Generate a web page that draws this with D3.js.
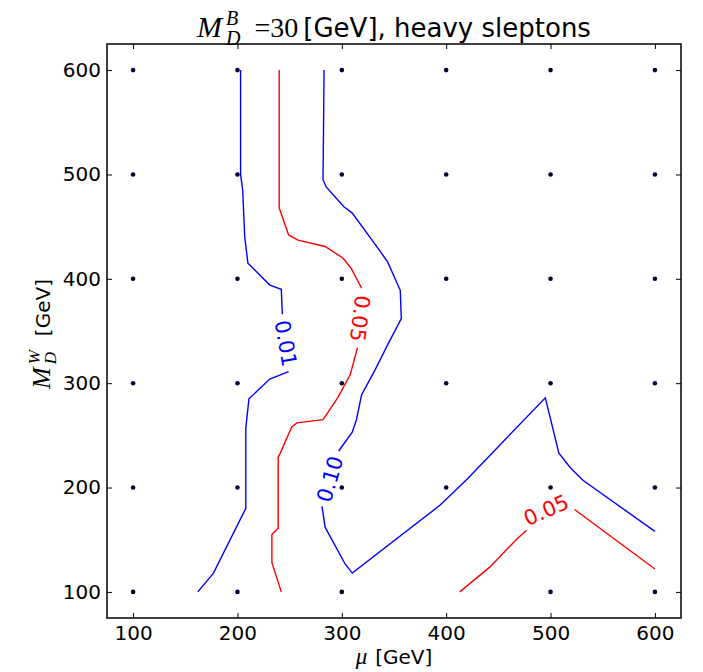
<!DOCTYPE html>
<html>
<head>
<meta charset="utf-8">
<script src="https://cdn.jsdelivr.net/npm/d3@7"></script>
<style>
  body { margin: 0; background: #fff; }
</style>
</head>
<body>
<div id="chart"></div>
<script>
// scan points in the (mu, M_D^W) plane, GeV
const scanMu = [100, 200, 300, 400, 500, 600,
                100, 200, 300, 400, 500, 600,
                100, 200, 300, 400, 500, 600,
                100, 200, 300, 400, 500, 600,
                100, 200, 300, 400, 500, 600,
                100, 200, 300, 500, 600];
const scanMW = [600, 600, 600, 600, 600, 600,
                500, 500, 500, 500, 500, 500,
                400, 400, 400, 400, 400, 400,
                300, 300, 300, 300, 300, 300,
                200, 200, 200, 200, 200, 200,
                100, 100, 100, 100, 100];

const ticks = [100, 200, 300, 400, 500, 600];

// contour pieces [mu, M_D^W], broken where the inline labels sit
const blue001Top = [[203, 600], [203, 500], [205, 485], [207, 440], [210, 415], [231, 394], [242, 390], [243, 366]];
const blue001Bot = [[249, 311], [231, 304], [211, 285], [208, 257], [208, 180], [177, 118], [162, 100]];
const red005Top = [[240, 600], [240, 495], [240, 468], [249, 442], [258, 437], [284, 431], [301, 420], [309, 410], [319, 391]];
const red005Bot = [[315, 334], [308, 308], [296, 286], [282, 265], [257, 262], [252, 258], [241, 233], [239, 229],
                   [239, 161], [233, 155], [233, 128], [242, 100]];
const blue010Top = [[283, 600], [282, 495], [285, 488], [302, 469], [310, 463], [337, 426], [344, 416], [356, 389],
                    [357, 362], [344, 337], [332, 313], [319, 289], [314, 265], [310, 253], [297, 235]];
const blue010Bot = [[281, 182], [284, 162], [303, 127], [310, 118], [394, 183], [420, 208], [495, 286],
                    [508, 233], [519, 219], [531, 207], [600, 158]];
const red005RightA = [[413, 100], [442, 124], [468, 151], [477, 159]];
const red005RightB = [[523, 179], [600, 122]];

const contourPieces = [
  {pts: blue001Top, color: "#0000ff"}, {pts: blue001Bot, color: "#0000ff"},
  {pts: red005Top, color: "#ff0000"}, {pts: red005Bot, color: "#ff0000"},
  {pts: blue010Top, color: "#0000ff"}, {pts: blue010Bot, color: "#0000ff"},
  {pts: red005RightA, color: "#ff0000"}, {pts: red005RightB, color: "#ff0000"}
];

const labelText = ["0.01", "0.05", "0.10", "0.05"];
const labelMu = [246, 317, 289, 496];
const labelMW = [338, 362, 208, 178];
const labelAngle = [80, 97, -74, -24];
const labelColor = ["#0000ff", "#ff0000", "#0000ff", "#ff0000"];

const SANS = '"DejaVu Sans", sans-serif';
const SERIF = '"Liberation Serif", serif';

var margin = { top: 44, left: 107 };
var width = 574;
var height = 574;

var svg = d3.select("#chart").append("svg")
    .attr("width", 703)
    .attr("height", 672);

var g = svg.append("g")
    .attr("transform", "translate(" + margin.left + "," + margin.top + ")");

const x = d3.scaleLinear().domain([75, 625]).range([0, width]);
const y = d3.scaleLinear().domain([75, 625]).range([height, 0]);

function styleAxis(a) {
  a.select(".domain").remove();
  a.selectAll("line").attr("stroke", "#000").attr("stroke-width", 1);
  a.selectAll("text").attr("fill", "#000").style("font-family", SANS).style("font-size", "20px");
}

g.append("g")
    .attr("transform", `translate(0,${height})`)
    .call(d3.axisBottom(x).tickValues(ticks).tickSizeInner(-5).tickSizeOuter(0).tickPadding(8))
    .call(styleAxis);

g.append("g")
    .call(d3.axisLeft(y).tickValues(ticks).tickSizeInner(-5).tickSizeOuter(0).tickPadding(6))
    .call(styleAxis);

g.append("g")
    .call(d3.axisTop(x).tickValues(ticks).tickSizeInner(-5).tickSizeOuter(0).tickFormat(""))
    .call(styleAxis);

g.append("g")
    .attr("transform", `translate(${width},0)`)
    .call(d3.axisRight(y).tickValues(ticks).tickSizeInner(-5).tickSizeOuter(0).tickFormat(""))
    .call(styleAxis);

// contour lines
const line = d3.line()
    .x(d => x(d[0]))
    .y(d => y(d[1]));

g.selectAll("path.contour")
    .data(contourPieces)
    .enter()
    .append("path")
    .attr("class", "contour")
    .attr("fill", "none")
    .attr("stroke", d => d.color)
    .attr("stroke-width", 1.4)
    .attr("d", d => line(d.pts));

// inline contour labels
labelText.forEach((t, i) => {
  g.append("text")
      .attr("transform", `translate(${x(labelMu[i])},${y(labelMW[i])}) rotate(${labelAngle[i]})`)
      .attr("text-anchor", "middle")
      .attr("dominant-baseline", "central")
      .attr("fill", labelColor[i])
      .style("font-family", SANS)
      .style("font-size", "21px")
      .text(t);
});

// scan points
g.selectAll("circle")
    .data(scanMu)
    .enter()
    .append("circle")
    .attr("cx", d => x(d))
    .attr("cy", (d, i) => y(scanMW[i]))
    .attr("r", 2.3)
    .attr("fill", "#000033");

// frame
g.append("rect")
    .attr("width", width)
    .attr("height", height)
    .attr("fill", "none")
    .attr("stroke", "#000")
    .attr("stroke-width", 1.5);

// text made of pieces (mathtext-like sub/superscripts), centred on 0
function mathLabel(sel, parts) {
  let prevStart = 0, end = 0;
  parts.forEach(p => {
    const start = p.stack ? prevStart : end + (p.gap || 0);
    const t = sel.append("text")
        .attr("x", start)
        .attr("y", p.dy || 0)
        .attr("fill", "#000")
        .style("font-family", p.f)
        .style("font-size", p.s + "px")
        .style("font-style", p.it ? "italic" : "normal")
        .text(p.t);
    const w = t.node().getComputedTextLength();
    prevStart = start;
    end = Math.max(end, start + w);
  });
  sel.selectAll("text").attr("x", function () { return +this.getAttribute("x") - end / 2; });
}

mathLabel(svg.append("g").attr("transform", "translate(394,37)"), [
  {t: "M", f: SERIF, s: 30, it: true},
  {t: "D", f: SERIF, s: 20, it: true, dy: 8, gap: 4},
  {t: "B", f: SERIF, s: 20, it: true, dy: -12, stack: true},
  {t: "=30", f: SERIF, s: 28, gap: 14},
  {t: "[GeV], heavy sleptons", f: SANS, s: 26, gap: 5}
]);

mathLabel(svg.append("g").attr("transform", "translate(394,664)"), [
  {t: "\u03bc", f: SERIF, s: 23, it: true},
  {t: "[GeV]", f: SANS, s: 20, gap: 8}
]);

mathLabel(svg.append("g").attr("transform", "translate(50,334) rotate(-90)"), [
  {t: "M", f: SERIF, s: 26, it: true},
  {t: "D", f: SERIF, s: 17, it: true, dy: 6, gap: 3},
  {t: "W", f: SERIF, s: 17, it: true, dy: -10, stack: true},
  {t: "[GeV]", f: SANS, s: 20, gap: 14}
]);
</script>
</body>
</html>
